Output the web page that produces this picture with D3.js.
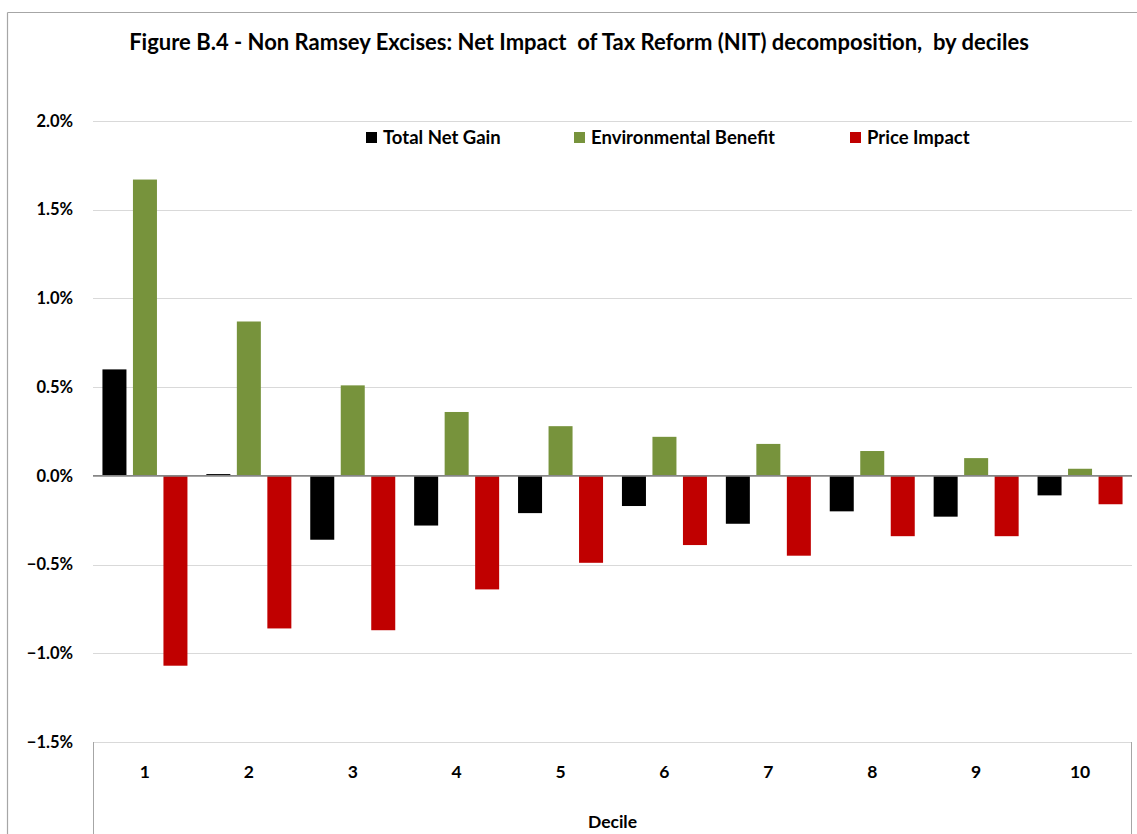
<!DOCTYPE html>
<html>
<head>
<meta charset="utf-8">
<script src="https://cdn.jsdelivr.net/npm/d3@7"></script>
<style>
  html, body { margin: 0; padding: 0; background: #fff; }
  svg { display: block; font-family: Lato, "Open Sans", sans-serif; }
</style>
</head>
<body>
<svg id="chart" width="1137" height="834"></svg>
<script>
const deciles = ["1","2","3","4","5","6","7","8","9","10"];
const seriesNames = ["Total Net Gain", "Environmental Benefit", "Price Impact"];
const seriesColors = ["#000000", "#77933c", "#c00000"];
const totalNetGain = [0.0060, 0.0001, -0.0036, -0.0028, -0.0021, -0.0017, -0.0027, -0.0020, -0.0023, -0.0011];
const environmentalBenefit = [0.0167, 0.0087, 0.0051, 0.0036, 0.0028, 0.0022, 0.0018, 0.0014, 0.0010, 0.0004];
const priceImpact = [-0.0107, -0.0086, -0.0087, -0.0064, -0.0049, -0.0039, -0.0045, -0.0034, -0.0034, -0.0016];
const yTicks = [-0.015, -0.01, -0.005, 0, 0.005, 0.01, 0.015, 0.02];
const titleText = "Figure B.4 - Non Ramsey Excises: Net Impact  of Tax Reform (NIT) decomposition,  by deciles";
const xAxisTitle = "Decile";

const seriesValues = [totalNetGain, environmentalBenefit, priceImpact];
const data = deciles.map((d, i) => ({ decile: d, values: seriesNames.map((s, k) => ({ key: s, value: seriesValues[k][i], color: seriesColors[k] })) }));

const svg = d3.select("#chart");
const plotLeft = 93, plotRight = 1132, plotTop = 121, plotBottom = 742;

const x = d3.scaleBand().domain(deciles).range([plotLeft, plotRight]).padding(0);
const y = d3.scaleLinear().domain([-0.015, 0.02]).range([plotBottom, plotTop]);
const half = 42.5;
const xs = d3.scaleBand().domain(seriesNames)
  .range([x.bandwidth() / 2 - half, x.bandwidth() / 2 + half]).paddingInner(0.213).paddingOuter(0);

// outer frame
svg.append("line").attr("x1", 7.5).attr("x2", 1137).attr("y1", 12.5).attr("y2", 12.5).attr("stroke", "#a6a6a6").attr("stroke-width", 1.2);
svg.append("line").attr("x1", 7.5).attr("x2", 7.5).attr("y1", 12.5).attr("y2", 834).attr("stroke", "#a6a6a6").attr("stroke-width", 1.2);

// title
svg.append("text").attr("x", 579).attr("y", 50).attr("text-anchor", "middle")
  .style("white-space", "pre")
  .attr("font-size", 22).attr("font-weight", "bold").attr("fill", "#000")
  .text(titleText);

// gridlines
svg.append("g").selectAll("line").data(yTicks.filter(t => t !== 0)).join("line")
  .attr("x1", plotLeft).attr("x2", plotRight)
  .attr("y1", d => Math.round(y(d)) + 0.5).attr("y2", d => Math.round(y(d)) + 0.5)
  .attr("stroke", "#d9d9d9").attr("stroke-width", 1);

// y axis labels
const yAxis = d3.axisLeft(y).tickValues(yTicks).tickFormat(d3.format(".1%")).tickSize(0).tickPadding(0);
const yg = svg.append("g").attr("transform", `translate(${plotLeft - 20},0)`).call(yAxis);
yg.select(".domain").remove();
yg.selectAll("text").attr("font-size", 16.5).attr("font-weight", "bold").attr("fill", "#000")
  .attr("font-family", "Lato, sans-serif");

// bars
const groups = svg.append("g").selectAll("g").data(data).join("g")
  .attr("transform", d => `translate(${x(d.decile)},0)`);
groups.selectAll("rect").data(d => d.values).join("rect")
  .attr("x", d => xs(d.key))
  .attr("width", xs.bandwidth())
  .attr("y", d => y(Math.max(0, d.value)))
  .attr("height", d => Math.max(1, Math.abs(y(d.value) - y(0))))
  .attr("fill", d => d.color);

// zero line
svg.append("line").attr("x1", plotLeft).attr("x2", plotRight).attr("y1", y(0)).attr("y2", y(0))
  .attr("stroke", "#868686").attr("stroke-width", 1.6);

// bottom category box
svg.append("line").attr("x1", plotLeft + 0.5).attr("x2", plotLeft + 0.5).attr("y1", plotBottom).attr("y2", 834).attr("stroke", "#a6a6a6");
svg.append("line").attr("x1", plotRight - 0.5).attr("x2", plotRight - 0.5).attr("y1", plotBottom).attr("y2", 834).attr("stroke", "#a6a6a6");

// x axis labels
const xAxis = d3.axisBottom(x).tickSize(0).tickPadding(0);
const xg = svg.append("g").attr("transform", `translate(0,${766})`).call(xAxis);
xg.select(".domain").remove();
xg.selectAll("text").attr("font-size", 17.5).attr("font-weight", "bold").attr("fill", "#000")
  .attr("font-family", "Lato, sans-serif");

svg.append("text").attr("x", (plotLeft + plotRight) / 2).attr("y", 828).attr("text-anchor", "middle")
  .attr("font-size", 17.5).attr("font-weight", "bold").attr("fill", "#000").text(xAxisTitle);

// legend
const legendX = [366, 574, 850];
const lg = svg.append("g").selectAll("g").data(seriesNames).join("g")
  .attr("transform", (d, i) => `translate(${legendX[i]},132)`);
lg.append("rect").attr("width", 11).attr("height", 11).attr("fill", (d, i) => seriesColors[i]);
lg.append("text").attr("x", 17).attr("y", 12).attr("font-size", 18.5).attr("font-weight", "bold").attr("fill", "#000").text(d => d);
</script>
</body>
</html>
